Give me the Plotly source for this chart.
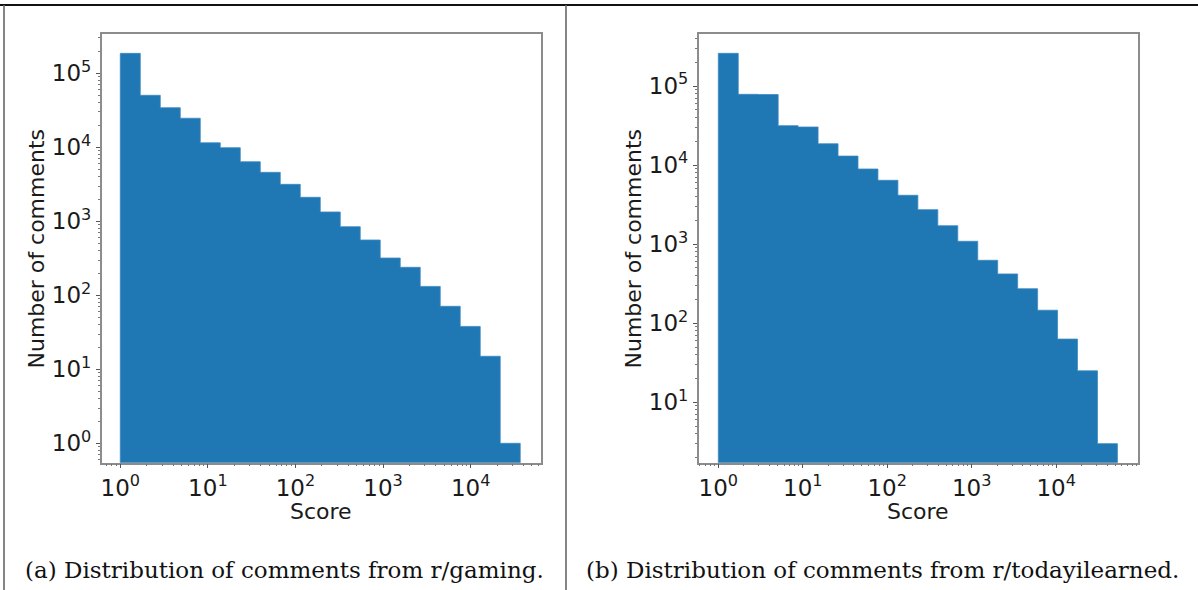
import numpy as np
import plotly.graph_objects as go

# Comment-score histograms (20 log-spaced bins starting at score 1)
gaming_max_score = 36800
gaming_counts = [186000, 50400, 34300, 24700, 11500, 9880, 6380, 4590, 3160, 2110,
                 1336, 845, 559, 319, 239, 132, 71, 38, 15, 1]

til_max_score = 53100
til_counts = [259000, 78500, 78000, 31500, 30300, 18600, 13000, 8920, 6420, 4150,
              2730, 1710, 1087, 625, 420, 273, 146, 63, 25, 3]

x_tick_vals = [1, 10, 100, 1000, 10000]
x_tick_text = ["10<sup>0</sup>", "10<sup>1</sup>", "10<sup>2</sup>", "10<sup>3</sup>", "10<sup>4</sup>"]
y_tick_vals_a = [1, 10, 100, 1000, 10000, 100000]
y_tick_text_a = ["10<sup>0</sup>", "10<sup>1</sup>", "10<sup>2</sup>", "10<sup>3</sup>",
                 "10<sup>4</sup>", "10<sup>5</sup>"]
y_tick_vals_b = [10, 100, 1000, 10000, 100000]
y_tick_text_b = ["10<sup>1</sup>", "10<sup>2</sup>", "10<sup>3</sup>", "10<sup>4</sup>", "10<sup>5</sup>"]

captions = ["(a) Distribution of comments from r/gaming.",
            "(b) Distribution of comments from r/todayilearned."]

BLUE = "#1f77b4"
W, H = 1198, 590


def step_polygon(edges, counts, base=1e-2):
    xs, ys = [edges[0]], [base]
    for i, c in enumerate(counts):
        xs += [edges[i], edges[i + 1]]
        ys += [c, c]
    xs.append(edges[-1])
    ys.append(base)
    return xs, ys


def log_edges(max_score, n_bins):
    return np.logspace(0, np.log10(max_score), n_bins + 1)


minor_vals = [m * 10 ** k for k in range(-1, 7) for m in range(2, 10)]

fig = go.Figure()

for k, (mx, counts) in enumerate([(gaming_max_score, gaming_counts), (til_max_score, til_counts)]):
    edges = log_edges(mx, len(counts))
    xs, ys = step_polygon(edges, counts)
    sfx = "" if k == 0 else "2"
    fig.add_trace(go.Scatter(x=xs, y=ys, mode="lines", fill="toself", fillcolor=BLUE,
                             line=dict(color="#3d8ac2", width=0.8), hoverinfo="skip",
                             xaxis="x" + sfx, yaxis="y" + sfx, showlegend=False))


def px_x(a, b):
    return [a / W, b / W]


def px_y(top, bottom):
    return [1 - bottom / H, 1 - top / H]


axis_common = dict(type="log", showgrid=False, zeroline=False, showline=True, mirror=True,
                   linecolor="#8c8c8c", linewidth=1.5, ticks="outside", ticklen=4,
                   tickwidth=1, tickcolor="#555555",
                   tickfont=dict(family="DejaVu Sans", size=23, color="#1a1a1a"),
                   minor=dict(ticks="outside", ticklen=2, tickwidth=0.8, tickcolor="#777777",
                              tickmode="array", tickvals=minor_vals, showgrid=False))

fig.update_layout(
    width=W, height=H, margin=dict(l=0, r=0, t=0, b=0),
    paper_bgcolor="white", plot_bgcolor="white",
    xaxis=dict(axis_common, domain=px_x(101.7, 541), range=[-0.212, 4.803],
               tickmode="array", tickvals=x_tick_vals, ticktext=x_tick_text, anchor="y"),
    yaxis=dict(axis_common, domain=px_y(34.3, 462.7), range=[-0.262, 5.527],
               tickmode="array", tickvals=y_tick_vals_a, ticktext=y_tick_text_a, anchor="x"),
    xaxis2=dict(axis_common, domain=px_x(698.7, 1137.7), range=[-0.232, 4.965],
                tickmode="array", tickvals=x_tick_vals, ticktext=x_tick_text, anchor="y2"),
    yaxis2=dict(axis_common, domain=px_y(34.3, 462.7), range=[0.236, 5.654],
                tickmode="array", tickvals=y_tick_vals_b, ticktext=y_tick_text_b, anchor="x2"),
)

label_font = dict(family="DejaVu Sans", size=22, color="#1a1a1a")
cap_font = dict(family="DejaVu Serif", size=23, color="#111111")
for cx_plot, cx_title, cx_cap, caption in [(321.3, 36, 284.5, captions[0]),
                                           (918.2, 633, 882, captions[1])]:
    fig.add_annotation(x=cx_plot / W, y=1 - 511 / H, xref="paper", yref="paper",
                       text="Score", showarrow=False, font=label_font,
                       xanchor="center", yanchor="middle")
    fig.add_annotation(x=cx_title / W, y=1 - 248.5 / H, xref="paper", yref="paper",
                       text="Number of comments", showarrow=False, font=label_font,
                       textangle=-90, xanchor="center", yanchor="middle")
    fig.add_annotation(x=cx_cap / W, y=1 - 570 / H, xref="paper", yref="paper",
                       text=caption, showarrow=False, font=cap_font,
                       xanchor="center", yanchor="middle")

# Panel frame lines
fig.add_shape(type="line", xref="paper", yref="paper", x0=0, x1=1, y0=1 - 5 / H, y1=1 - 5 / H,
              line=dict(color="#111111", width=2))
for xv in [4, 566]:
    fig.add_shape(type="line", xref="paper", yref="paper", x0=xv / W, x1=xv / W,
                  y0=0, y1=1 - 5 / H, line=dict(color="#666666", width=1.6))

fig.write_html("out.html")
